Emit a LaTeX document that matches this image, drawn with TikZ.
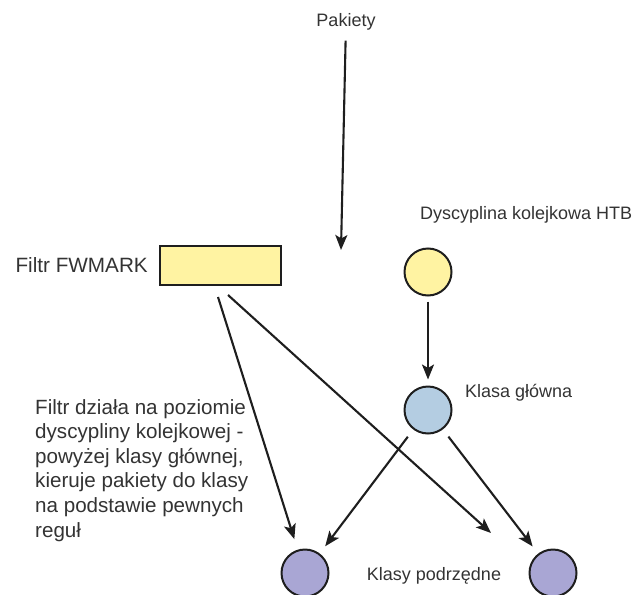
\documentclass[tikz,border=0pt]{standalone}
\usepackage{fontspec}
\setmainfont{Liberation Sans}
\usetikzlibrary{arrows.meta}
\definecolor{txt}{HTML}{333333}
\definecolor{ln}{HTML}{1E1E1E}
\definecolor{yel}{HTML}{FFF3A2}
\definecolor{blu}{HTML}{B4CDE2}
\definecolor{pur}{HTML}{A9A6D4}
\tikzset{
  lbl/.style={text=txt, font=\fontsize{18}{22}\selectfont, inner sep=0pt},
  circ/.style={circle, draw=ln, line width=2pt, minimum size=47pt, inner sep=0pt},
  conn/.style={draw=ln, line width=2.1pt, -{Stealth[length=15pt,width=12pt,inset=3.5pt]}},
}
\begin{document}
\begin{tikzpicture}[x=1pt,y=-1pt]
\useasboundingbox (0,0) rectangle (644,594);
\node[lbl] (pak) at (346,22) {Pakiety};
\coordinate (pakend) at (341,250);
\node[draw=ln, line width=2pt, fill=yel, minimum width=121pt, minimum height=39pt, inner sep=0pt] (filt) at (220.5,265.5) {};
\node[lbl, font=\fontsize{20.7}{24}\selectfont, anchor=east] (filtl) at (148,265) {Filtr FWMARK};
\node[lbl, anchor=west] (htbl) at (420,215) {Dyscyplina kolejkowa HTB};
\node[circ, fill=yel] (htb) at (428,272) {};
\node[circ, fill=blu] (main) at (428,410) {};
\node[lbl, anchor=west] (mainl) at (465,393) {Klasa główna};
\node[circ, fill=pur] (c1) at (305,573) {};
\node[circ, fill=pur] (c2) at (553,573) {};
\node[lbl] (subl) at (434,576) {Klasy podrzędne};
\node[lbl, font=\fontsize{20.6}{24.6}\selectfont, anchor=north west, align=left] (desc) at (35,399)
  {Filtr działa na poziomie\\dyscypliny kolejkowej -\\powyżej klasy głównej,\\kieruje pakiety do klasy\\na podstawie pewnych\\reguł};
\coordinate (f1) at (218,297);
\coordinate (f2) at (228,295);
\coordinate (f2end) at (491,533);
\draw[conn, shorten <=10pt] (pak) -- (pakend);
\draw[conn, shorten <=5pt, shorten >=6pt] (htb) -- (main);
\draw[conn, shorten >=11pt] (f1) -- (c1);
\draw[conn] (f2) -- (f2end);
\draw[conn, shorten <=9pt, shorten >=9pt] (main) -- (c1);
\draw[conn, shorten <=9pt, shorten >=9pt] (main) -- (c2);
\end{tikzpicture}
\end{document}
